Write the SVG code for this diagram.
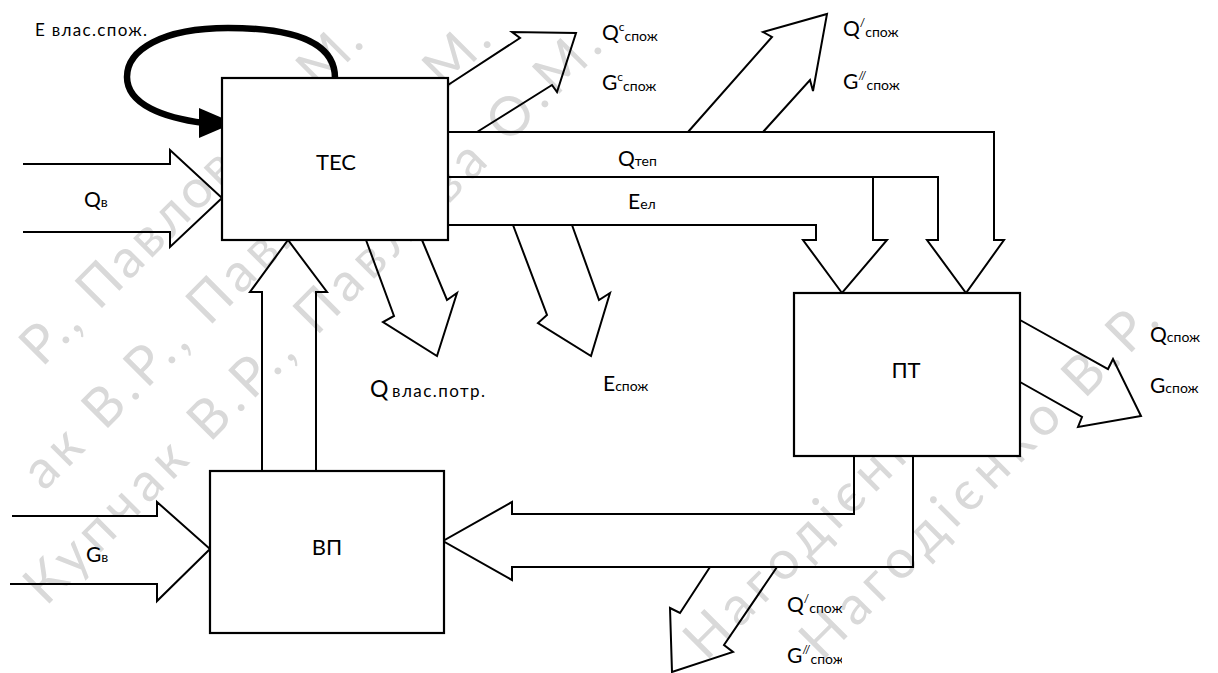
<svg xmlns="http://www.w3.org/2000/svg" width="1218" height="673" viewBox="0 0 1218 673">
<style>
.ln{fill:none;stroke:#000;stroke-width:2;stroke-linejoin:miter}
.box{fill:#fff;stroke:#000;stroke-width:2.2}
.t{font-family:Lato,"Liberation Sans",sans-serif;fill:#000}
.big{font-size:22px}
.m{font-size:21px}
.s{font-size:14px}
.sup{font-size:12px}
.wm{font-family:Lato,"Liberation Sans",sans-serif;font-size:54px;fill:#d9d9d9}
</style>
<defs>
<clipPath id="c1"><rect x="0" y="0" width="661" height="673"/></clipPath>
<clipPath id="c2"><rect x="0" y="0" width="905" height="673"/></clipPath>
<clipPath id="c3"><rect x="0" y="0" width="842" height="673"/></clipPath>
</defs>
<g id="watermark">
<text class="wm" transform="translate(42,368) rotate(-45)" textLength="458" lengthAdjust="spacing">Р., Павлова О.М.</text>
<text class="wm" transform="translate(44,492) rotate(-45)" textLength="636" lengthAdjust="spacing">ак В.Р., Павлова О.М.</text>
<text class="wm" transform="translate(46,607) rotate(-45)" textLength="790" lengthAdjust="spacing">Купчак В.Р., Павлова О.М.</text>
<text class="wm" transform="translate(706,662) rotate(-45)" textLength="420" lengthAdjust="spacing">Нагодієнко В.</text>
<text class="wm" transform="translate(822,662) rotate(-45)" textLength="480" lengthAdjust="spacing">Нагодієнко В.Р.</text>
</g>
<g id="connectors">
<path class="ln" d="M23,164 H170 V150 L222,198 L170,247 V232 H23"/>
<path class="ln" d="M12,516 H157 V502 L210,549 L157,601 V584 H10"/>
<path class="ln" d="M262,471 V292 H250 L288,240 L327,292 H316 V471"/>
<path class="ln" d="M448,85 L520,38 L512,32 L576,33 L557,92 L552,85 L477,132"/>
<path class="ln" d="M688,132 L772,37 L763,32 L827,14 L813,91 L810,80 L763,132"/>
<path class="ln" d="M448,132 H994 V240 H1004 L966,293 L927,240 H938 V177 H448"/>
<path class="ln" d="M873,177 V240 H887 L842,293 L803,240 H816 V225 H448"/>
<path class="ln" d="M366,240 L394,316 L383,322 L437,356 L457,293 L447,300 L422,240"/>
<path class="ln" d="M513,225 L547,315 L538,323 L591,356 L610,293 L599,300 L572,225"/>
<path class="ln" d="M1020,320 L1108,369 L1113,359 L1141,416 L1078,427 L1082,417 L1020,382"/>
<path class="ln" d="M854,456 V514 H512 V502 L443,541 L512,580 V567 H913 V456"/>
<path class="ln" d="M710,567 L680,613 L670,608 L672,672 L733,652 L724,645 L777,567"/>
<path d="M335,78 C335,38 285,28 228,28 C162,28 127,50 127,77 C127,105 165,118 204,123" fill="none" stroke="#000" stroke-width="6.5"/>
<polygon points="199,108 234,123 199,138" fill="#000"/>
</g>
<g id="tec"><rect class="box" x="222" y="78" width="226" height="162"/><text class="t big" x="336" y="170" text-anchor="middle">ТЕС</text></g>
<g id="pt"><rect class="box" x="794" y="293" width="226" height="163"/><text class="t big" x="906" y="378" text-anchor="middle">ПТ</text></g>
<g id="vp"><rect class="box" x="210" y="471" width="234" height="162"/><text class="t big" x="327" y="555" text-anchor="middle">ВП</text></g>
<g id="labels">
<text class="t" x="35" y="36" font-size="17" textLength="112">Е влас.спож.</text>
<text class="t" x="84" y="207"><tspan class="m">Q</tspan><tspan class="s">в</tspan></text>
<text class="t" x="86" y="562"><tspan class="m">G</tspan><tspan class="s">в</tspan></text>
<text class="t" x="618" y="166"><tspan class="m">Q</tspan><tspan class="s">теп</tspan></text>
<text class="t" x="628" y="209"><tspan class="m">E</tspan><tspan class="s">ел</tspan></text>
<text class="t" x="603" y="391"><tspan class="m">E</tspan><tspan class="s">спож</tspan></text>
<text class="t" x="370" y="397"><tspan font-size="23">Q</tspan><tspan font-size="17" x="392" textLength="93">влас.потр.</tspan></text>
<text class="t" x="1150" y="342"><tspan class="m">Q</tspan><tspan class="s">спож</tspan></text>
<text class="t" x="1150" y="393"><tspan class="m">G</tspan><tspan class="s">спож</tspan></text>
<g clip-path="url(#c1)">
<text class="t" x="602" y="40"><tspan class="m">Q</tspan><tspan class="sup" dy="-9">c</tspan><tspan class="s" dy="10">спож</tspan></text>
<text class="t" x="602" y="90"><tspan class="m">G</tspan><tspan class="sup" dy="-9">c</tspan><tspan class="s" dy="10">спож</tspan></text>
</g>
<text class="t" x="843" y="36"><tspan class="m">Q</tspan><tspan class="sup" dy="-9">/</tspan><tspan class="s" dy="10">спож</tspan></text>
<g clip-path="url(#c2)">
<text class="t" x="843" y="89"><tspan class="m">G</tspan><tspan class="sup" dy="-9">//</tspan><tspan class="s" dy="10">спож</tspan></text>
</g>
<text class="t" x="787" y="612"><tspan class="m">Q</tspan><tspan class="sup" dy="-9">/</tspan><tspan class="s" dy="10">спож</tspan></text>
<g clip-path="url(#c3)">
<text class="t" x="787" y="663"><tspan class="m">G</tspan><tspan class="sup" dy="-9">//</tspan><tspan class="s" dy="10">спож</tspan></text>
</g>
</g>
</svg>
